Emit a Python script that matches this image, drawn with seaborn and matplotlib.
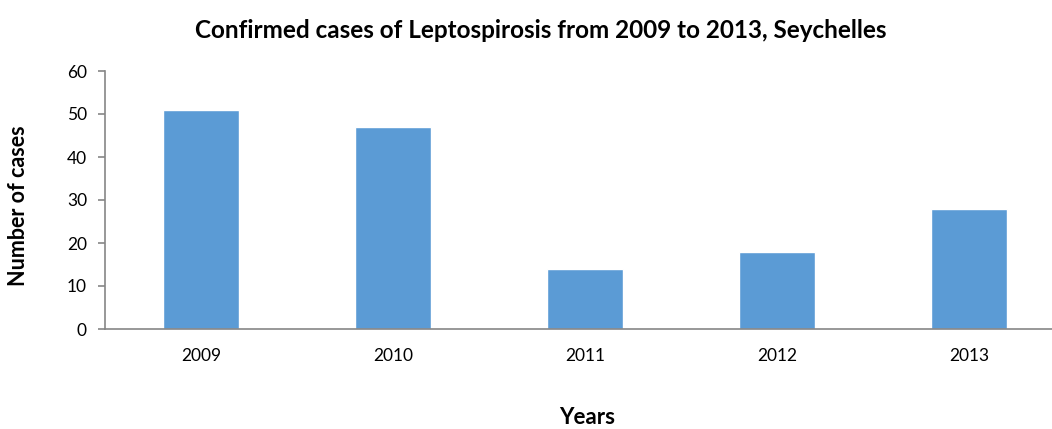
import matplotlib
matplotlib.use("Agg")
import matplotlib.pyplot as plt
import seaborn as sns
import pandas as pd

years = ["2009", "2010", "2011", "2012", "2013"]
cases = [51, 47, 14, 18, 28]
yticks = [0, 10, 20, 30, 40, 50, 60]

sns.set_style("white")
plt.rcParams['font.family'] = ['Lato', 'DejaVu Sans']
plt.rcParams.update({"text.color": "black", "axes.labelcolor": "black",
                     "xtick.color": "black", "ytick.color": "black"})

df = pd.DataFrame({"Years": years, "Cases": cases})

fig = plt.figure(figsize=(10.52, 4.29), dpi=100)
ax = fig.add_axes([105/1052, 100/429, 960/1052, 258/429])
sns.barplot(data=df, x="Years", y="Cases", color="#5B9BD5", saturation=1,
            width=0.4, ax=ax)
ax.set_xlim(-0.5, 4.5)
ax.set_ylim(0, 60)
ax.set_yticks(yticks)
ax.set_yticklabels([str(t) for t in yticks])
for s in ["top", "right"]:
    ax.spines[s].set_visible(False)
for s in ["left", "bottom"]:
    ax.spines[s].set_color("#868686")
    ax.spines[s].set_linewidth(1.2)
ax.tick_params(axis="y", direction="out", length=5, width=1.2, color="#868686",
               labelcolor="black", labelsize=12.5, pad=8, left=True)
ax.tick_params(axis="x", length=0, labelsize=12.5, pad=14, labelcolor="black")
ax.set_xlabel("Years", fontsize=16, fontweight="bold", va="center", color="black")
ax.set_ylabel("Number of cases", fontsize=15.5, fontweight="bold", va="center",
              color="black")
ax.xaxis.set_label_coords(482/960, (329 - 418)/258)
ax.yaxis.set_label_coords((19 - 105)/960, (329 - 206)/258)
fig.suptitle("Confirmed cases of Leptospirosis from 2009 to 2013, Seychelles",
             x=541/1052, y=1 - 30/429, va="center", fontsize=17.5,
             fontweight="bold", color="black")
fig.savefig("out.png", dpi=100)
